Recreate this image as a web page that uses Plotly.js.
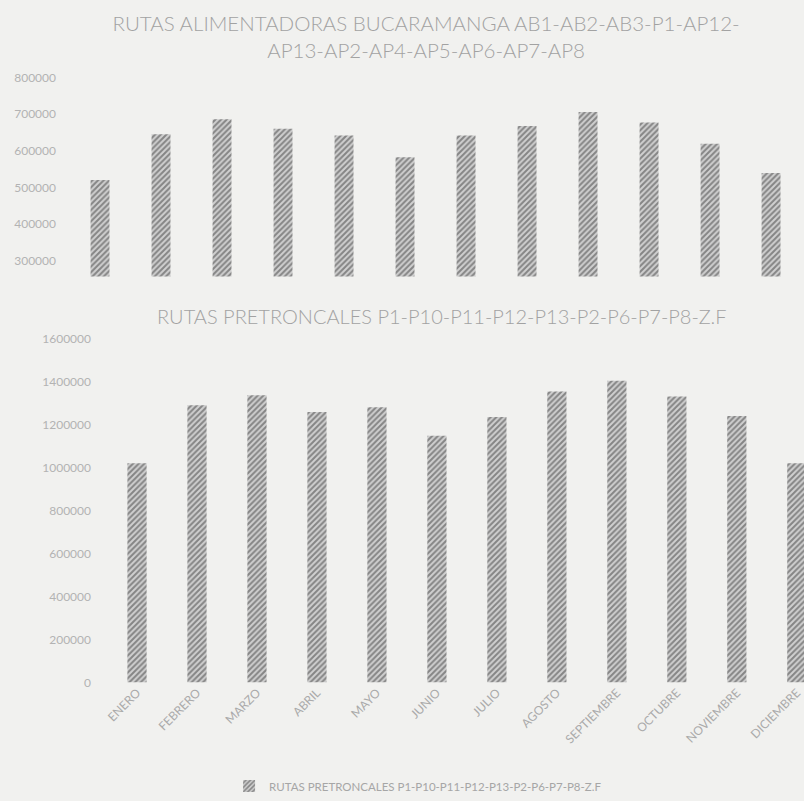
<!DOCTYPE html>
<html>
<head>
<meta charset="utf-8">
<script src="https://cdn.plot.ly/plotly-3.0.1.min.js"></script>
<style>
html,body{margin:0;padding:0;background:#f1f1ef;}
#chart{width:804px;height:801px;}
</style>
</head>
<body>
<div id="chart"></div>
<script>
var months = ["ENERO","FEBRERO","MARZO","ABRIL","MAYO","JUNIO","JULIO","AGOSTO","SEPTIEMBRE","OCTUBRE","NOVIEMBRE","DICIEMBRE"];
var alimentadoras = [520000, 645000, 686000, 660000, 642000, 582000, 642000, 668000, 706000, 677000, 619000, 539000];
var pretroncales = [1019000, 1289000, 1335000, 1257000, 1280000, 1147000, 1234000, 1353000, 1403000, 1330000, 1239000, 1019000];
var title1 = "RUTAS ALIMENTADORAS BUCARAMANGA AB1-AB2-AB3-P1-AP12-<br>AP13-AP2-AP4-AP5-AP6-AP7-AP8";
var title2 = "RUTAS PRETRONCALES P1-P10-P11-P12-P13-P2-P6-P7-P8-Z.F";
var legendName = "RUTAS PRETRONCALES P1-P10-P11-P12-P13-P2-P6-P7-P8-Z.F";

var fontFam = "Lato, 'Open Sans', sans-serif";
var pattern = {shape: "/", fgcolor: "#858585", bgcolor: "#d0d0d0", size: 4, solidity: 0.5};

var H = 801, W = 804;
function py(px){ return 1 - px / H; }

var traces = [
  {type: "bar", x: months, y: alimentadoras, xaxis: "x2", yaxis: "y2", width: 0.31,
   marker: {color: "#d0d0d0", pattern: pattern, line: {width: 0}}, showlegend: false},
  {type: "bar", x: months, y: pretroncales, xaxis: "x", yaxis: "y", width: 0.32, name: legendName,
   marker: {color: "#d0d0d0", pattern: pattern, line: {width: 0}}, showlegend: true}
];

var layout = {
  width: W, height: H,
  margin: {l: 0, r: 0, t: 0, b: 0},
  paper_bgcolor: "#f1f1ef",
  plot_bgcolor: "rgba(0,0,0,0)",
  font: {family: fontFam, color: "#ababab", size: 10},
  title: {text: title1, x: 0.53, xanchor: "center", y: py(31), yanchor: "middle",
          font: {family: fontFam, size: 20.5, color: "#a2a2a2", weight: 300}},
  showlegend: true,
  legend: {orientation: "h", x: 0.52, xanchor: "center", y: py(790), yanchor: "middle",
           font: {size: 11.5, color: "#a6a6a6"}, bgcolor: "rgba(0,0,0,0)"},
  xaxis: {domain: [100 / W, 1], range: [-0.617, 11.12], tickangle: -45, showgrid: false, zeroline: false,
          showline: false, ticks: "", tickfont: {size: 12, color: "#aaaaaa"}, anchor: "y"},
  yaxis: {domain: [py(686), py(340)], range: [0, 1600000], dtick: 200000, tickformat: "d",
          showgrid: false, zeroline: false, showline: false, ticks: "", ticklabelstandoff: 8,
          tickfont: {size: 12, color: "#b3b3b3"}, anchor: "x"},
  xaxis2: {domain: [65 / W, 1], range: [-0.574, 11.54], showticklabels: false, showgrid: false,
           zeroline: false, showline: false, ticks: "", anchor: "y2"},
  yaxis2: {domain: [py(278), py(78)], range: [256000, 800000], dtick: 100000, tick0: 0, tickformat: "d",
           showgrid: false, zeroline: false, showline: false, ticks: "", ticklabelstandoff: 8,
           tickfont: {size: 12, color: "#b3b3b3"}, anchor: "x2"},
  annotations: [
    {text: title2, xref: "paper", yref: "paper", x: 0.55, y: py(318), xanchor: "center", yanchor: "middle",
     showarrow: false, font: {family: fontFam, size: 20, color: "#a2a2a2", weight: 300}}
  ]
};

Plotly.newPlot("chart", traces, layout, {displayModeBar: false, staticPlot: true});
</script>
</body>
</html>
